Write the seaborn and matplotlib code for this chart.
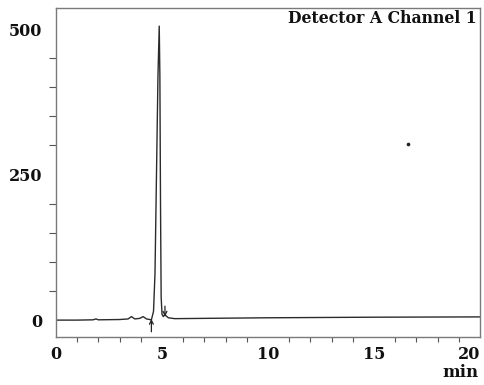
import matplotlib
matplotlib.use("Agg")
import matplotlib.pyplot as plt
from matplotlib.ticker import MultipleLocator
import pandas as pd
import seaborn as sns

# Chromatogram trace: retention time (min) and detector response
time_min = [0.0, 1.0, 1.75, 1.88, 2.0, 3.0, 3.4, 3.56, 3.72, 3.95, 4.11, 4.27,
            4.5, 4.6, 4.67, 4.74, 4.81, 4.87, 4.9, 4.93, 4.96, 5.0, 5.06,
            5.13, 5.2, 5.3, 5.6, 7.0, 10.0, 15.0, 20.0]
signal = [0.0, 0.0, 0.5, 2.0, 0.5, 1.0, 2.0, 6.0, 2.0, 3.0, 6.0, 2.0,
          0.5, 15.0, 80.0, 250.0, 420.0, 505.0, 420.0, 200.0, 40.0, 10.0, 6.0,
          9.0, 7.0, 4.0, 2.5, 3.0, 4.0, 5.0, 5.5]

# Integration start / end markers
start_time = 4.5
end_time = 5.14

# Stray speck on the record
speck_time = [16.6]
speck_value = [303]

x_major = [0, 5, 10, 15, 20]
y_major = [0, 250, 500]

df = pd.DataFrame({"time": time_min, "signal": signal})

sns.set_style("white")
plt.rcParams["font.family"] = ["DejaVu Serif", "Liberation Serif"]

fig = plt.figure(figsize=(4.84, 3.85), dpi=100)
ax = fig.add_axes([0.1157, 0.1247, 0.8760, 0.8543])

sns.lineplot(data=df, x="time", y="signal", ax=ax, color="#2b2b2b",
             linewidth=1.0, estimator=None, sort=False)
ax.scatter(speck_time, speck_value, s=7, color="#222222", marker="o",
           linewidths=0, zorder=3)

# start marker: arrow pointing up into the baseline
ax.annotate("", xy=(start_time, 2), xytext=(start_time, -20),
            arrowprops=dict(arrowstyle="->", color="#222222", lw=0.9,
                            shrinkA=0, shrinkB=0, mutation_scale=7))
# end marker: arrow pointing down onto the baseline
ax.annotate("", xy=(end_time, 6), xytext=(end_time, 24),
            arrowprops=dict(arrowstyle="->", color="#222222", lw=0.9,
                            shrinkA=0, shrinkB=0, mutation_scale=7))

ax.set_xlim(0, 20)
ax.set_ylim(-29, 536)
ax.set_xticks(x_major)
ax.set_yticks(y_major)
ax.xaxis.set_minor_locator(MultipleLocator(1))
ax.yaxis.set_minor_locator(MultipleLocator(50))
ax.set_xlabel("")
ax.set_ylabel("")

for spine in ax.spines.values():
    spine.set_color("#7a7a7a")
    spine.set_linewidth(1.0)

ax.tick_params(axis="both", which="major", direction="out", color="#555555",
               width=0.8, labelsize=11.5, labelcolor="#111111")
ax.tick_params(axis="x", which="major", length=5.8, pad=0.5)
ax.tick_params(axis="y", which="major", length=8.6, pad=1.4)
ax.tick_params(axis="x", which="minor", direction="out", length=3.6,
               width=0.8, color="#555555", bottom=True)
ax.tick_params(axis="y", which="minor", direction="out", length=5,
               width=0.8, color="#555555", left=True)
for lbl in ax.get_xticklabels() + ax.get_yticklabels():
    lbl.set_fontweight("bold")
# keep the last time label inside the page
ax.get_xticklabels()[-1].set_horizontalalignment("right")

ax.text(0.993, 0.993, "Detector A Channel 1", transform=ax.transAxes,
        ha="right", va="top", fontsize=11.3, fontweight="bold", color="#111111")
fig.text(0.988, 0.021, "min", ha="right", va="baseline", fontsize=12,
         fontweight="bold", color="#111111")

fig.savefig("out.png", dpi=100, facecolor="white")
